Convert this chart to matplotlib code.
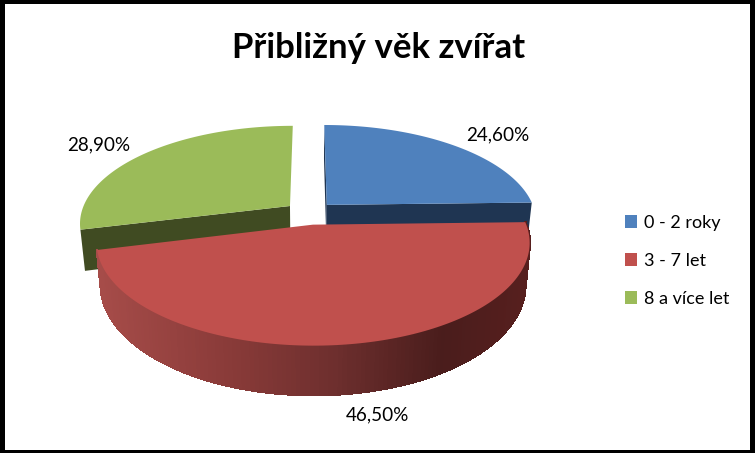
import numpy as np
import matplotlib
matplotlib.use("Agg")
import matplotlib.pyplot as plt
from matplotlib.patches import Polygon, Patch
from matplotlib.collections import PolyCollection
from matplotlib.colors import LinearSegmentedColormap

title = "Přibližný věk zvířat"
categories = ["0 - 2 roky", "3 - 7 let", "8 a více let"]
values = [24.6, 46.5, 28.9]
value_labels = ["24,60%", "46,50%", "28,90%"]
colors = ["#4F81BD", "#C0504D", "#9BBB59"]
wall_colors = ["#1F3552", "#5A2220", "#404B22"]

# fake 3d: the flat pie goes through a perspective projection
CX, CY = 309.5, 213
A, B, K = 209, 96, 0.17
EXPLODE = 0.12
DEPTH = 40
SHRINK = 0.98

plt.rcParams['font.family'] = ['Lato', 'DejaVu Sans']


def project(u, v, low=False):
    w = 1 + K * v
    x = A * u / w
    y = -B * v / w
    if low:
        return CX + x * SHRINK, CY + y + DEPTH / w
    return CX + x, CY + y


def rim(theta, mid):
    # theta in degrees, clockwise from the top
    t, m = np.radians(theta), np.radians(mid)
    u = np.sin(t) + EXPLODE * np.sin(m)
    v = np.cos(t) + EXPLODE * np.cos(m)
    return u, v


fig = plt.figure(figsize=(7.55, 4.53), dpi=100, facecolor="black")
ax = fig.add_axes([5 / 755, 3 / 453, 745 / 755, 446 / 453])
ax.set_xlim(5, 750)
ax.set_ylim(450, 4)
ax.set_xticks([])
ax.set_yticks([])
for s in ax.spines.values():
    s.set_visible(False)

edges = np.concatenate([[0], np.cumsum(values)]) / sum(values) * 360
order = [2, 0, 1]  # back slices first, red sits in front
shade = LinearSegmentedColormap.from_list(
    "side", [(0, "#A64C49"), (0.3, "#8A3B39"), (0.55, "#6E2F2E"), (0.8, "#4A1D1C"), (1, "#571F1E")])
visible_cuts = {0: [0, 1], 1: [], 2: [0]}

for i in order:
    start, stop = edges[i], edges[i + 1]
    mid = (start + stop) / 2
    apex_u, apex_v = EXPLODE * np.sin(np.radians(mid)), EXPLODE * np.cos(np.radians(mid))

    # cut faces
    for c in visible_cuts[i]:
        u, v = rim((start, stop)[c], mid)
        p1 = project(apex_u, apex_v)
        p2 = project(u, v)
        p3 = project(u, v, low=True)
        p4 = project(apex_u, apex_v, low=True)
        ax.add_patch(Polygon([p1, p2, p3, p4], facecolor=wall_colors[i], edgecolor="none"))

    angles = np.linspace(start, stop, 160)
    u, v = rim(angles, mid)
    tx, ty = project(u, v)
    bx, by = project(u, v, low=True)

    # outer side, only the front part shows
    if i == 1:
        quads = []
        for j in range(len(angles) - 1):
            quads.append([(tx[j], ty[j]), (tx[j + 1], ty[j + 1]), (bx[j + 1], by[j + 1]), (bx[j], by[j])])
        quad_colors = [shade((q[0][0] - tx.min()) / (tx.max() - tx.min())) for q in quads]
        ax.add_collection(PolyCollection(quads, facecolors=quad_colors, edgecolors=quad_colors,
                                         linewidths=1.2, antialiaseds=False))

    ax_x, ax_y = project(apex_u, apex_v)
    top = np.column_stack([np.r_[ax_x, tx], np.r_[ax_y, ty]])
    ax.add_patch(Polygon(top, facecolor=colors[i], edgecolor="none"))

ax.text(379, 48, title, fontsize=25, fontweight="bold", ha="center", va="center", color="black")

label_pos = [(498, 135), (378, 415), (99, 145)]
for txt, (x, y) in zip(value_labels, label_pos):
    ax.text(x, y, txt, fontsize=13.6, ha="center", va="center", color="black")

handles = [Patch(facecolor=c, edgecolor="none") for c in colors]
ax.legend(handles, categories, loc="center left", bbox_to_anchor=(0.8205, 0.424), frameon=False,
          fontsize=13, handlelength=0.67, handleheight=0.67, handletextpad=0.34,
          labelspacing=1.22, borderpad=0)

fig.savefig("out.png", dpi=100, facecolor=fig.get_facecolor())
